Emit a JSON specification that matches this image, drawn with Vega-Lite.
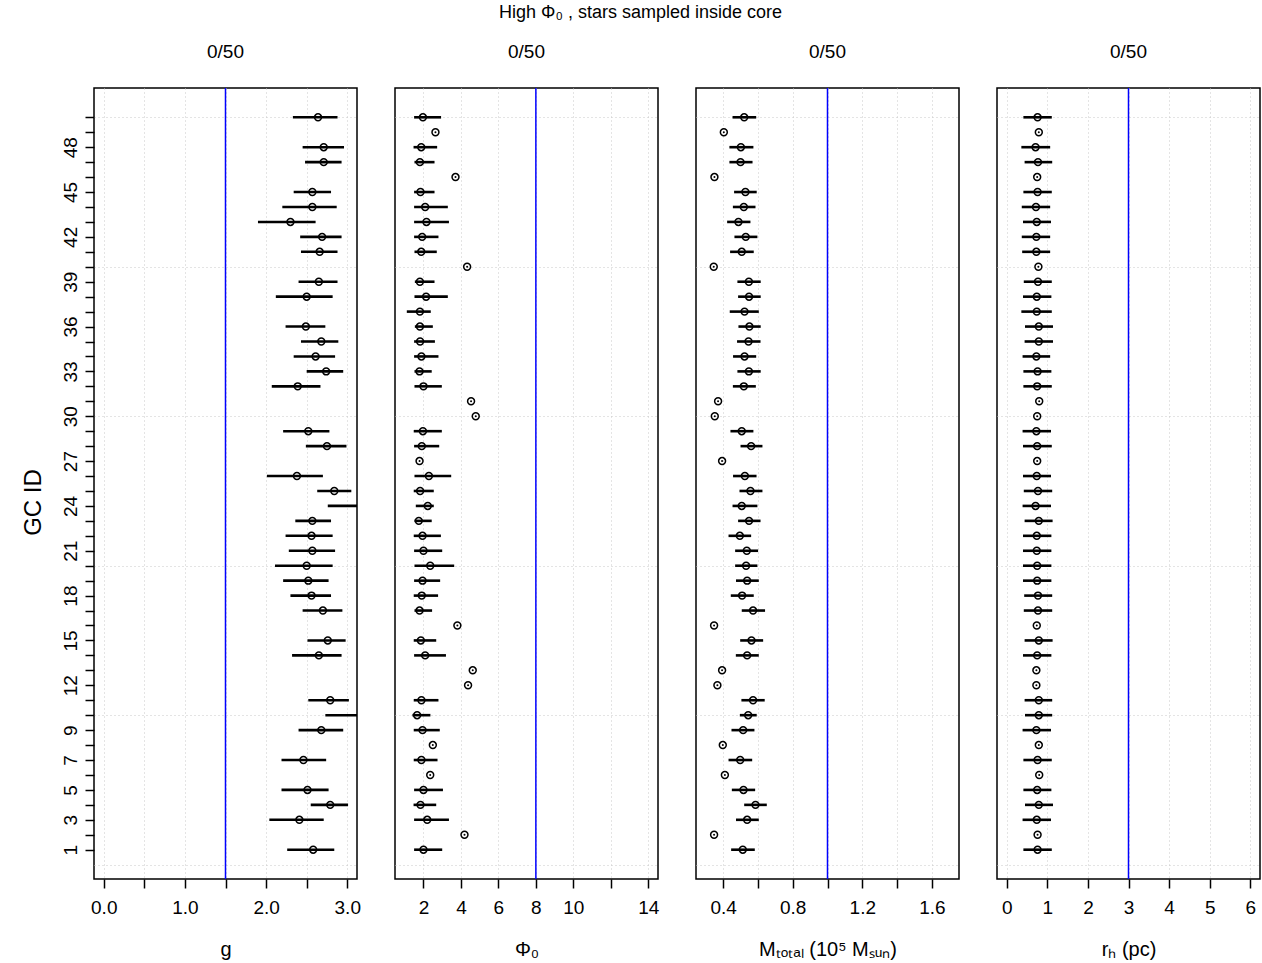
{
  "$schema": "https://vega.github.io/schema/vega-lite/v6.json",
  "background": "white",
  "padding": {"left": 20, "top": 3, "right": 2, "bottom": 2},
  "bounds": "flush",
  "title": {"text": "High  Φ₀ , stars sampled inside core", "fontSize": 18, "font": "Liberation Sans", "fontWeight": "normal", "anchor": "middle", "offset": 21, "color": "black"},
  "spacing": 38,
  "datasets": {
    "gc": [
      {"id": 50, "p": "g", "v": 2.64, "lo": 2.33, "hi": 2.88},
      {"id": 48, "p": "g", "v": 2.71, "lo": 2.45, "hi": 2.96},
      {"id": 47, "p": "g", "v": 2.71, "lo": 2.48, "hi": 2.93},
      {"id": 45, "p": "g", "v": 2.57, "lo": 2.34, "hi": 2.80},
      {"id": 44, "p": "g", "v": 2.57, "lo": 2.20, "hi": 2.87},
      {"id": 43, "p": "g", "v": 2.30, "lo": 1.90, "hi": 2.61},
      {"id": 42, "p": "g", "v": 2.69, "lo": 2.42, "hi": 2.93},
      {"id": 41, "p": "g", "v": 2.66, "lo": 2.43, "hi": 2.88},
      {"id": 39, "p": "g", "v": 2.65, "lo": 2.40, "hi": 2.88},
      {"id": 38, "p": "g", "v": 2.50, "lo": 2.12, "hi": 2.82},
      {"id": 36, "p": "g", "v": 2.49, "lo": 2.24, "hi": 2.73},
      {"id": 35, "p": "g", "v": 2.68, "lo": 2.43, "hi": 2.89},
      {"id": 34, "p": "g", "v": 2.61, "lo": 2.34, "hi": 2.85},
      {"id": 33, "p": "g", "v": 2.74, "lo": 2.50, "hi": 2.95},
      {"id": 32, "p": "g", "v": 2.39, "lo": 2.07, "hi": 2.67},
      {"id": 29, "p": "g", "v": 2.52, "lo": 2.21, "hi": 2.78},
      {"id": 28, "p": "g", "v": 2.75, "lo": 2.49, "hi": 2.99},
      {"id": 26, "p": "g", "v": 2.38, "lo": 2.01, "hi": 2.70},
      {"id": 25, "p": "g", "v": 2.84, "lo": 2.63, "hi": 3.05},
      {"id": 24, "p": "g", "v": 3.25, "lo": 2.76, "hi": 3.50},
      {"id": 23, "p": "g", "v": 2.57, "lo": 2.36, "hi": 2.80},
      {"id": 22, "p": "g", "v": 2.56, "lo": 2.24, "hi": 2.82},
      {"id": 21, "p": "g", "v": 2.57, "lo": 2.28, "hi": 2.85},
      {"id": 20, "p": "g", "v": 2.50, "lo": 2.11, "hi": 2.82},
      {"id": 19, "p": "g", "v": 2.52, "lo": 2.21, "hi": 2.77},
      {"id": 18, "p": "g", "v": 2.56, "lo": 2.30, "hi": 2.80},
      {"id": 17, "p": "g", "v": 2.70, "lo": 2.45, "hi": 2.94},
      {"id": 15, "p": "g", "v": 2.76, "lo": 2.51, "hi": 2.98},
      {"id": 14, "p": "g", "v": 2.65, "lo": 2.32, "hi": 2.93},
      {"id": 11, "p": "g", "v": 2.79, "lo": 2.52, "hi": 3.02},
      {"id": 10, "p": "g", "v": 3.25, "lo": 2.73, "hi": 3.50},
      {"id": 9, "p": "g", "v": 2.68, "lo": 2.40, "hi": 2.95},
      {"id": 7, "p": "g", "v": 2.46, "lo": 2.19, "hi": 2.74},
      {"id": 5, "p": "g", "v": 2.51, "lo": 2.19, "hi": 2.77},
      {"id": 4, "p": "g", "v": 2.79, "lo": 2.55, "hi": 3.01},
      {"id": 3, "p": "g", "v": 2.41, "lo": 2.04, "hi": 2.71},
      {"id": 1, "p": "g", "v": 2.58, "lo": 2.26, "hi": 2.84},

      {"id": 50, "p": "phi", "v": 1.97, "lo": 1.50, "hi": 2.94},
      {"id": 49, "p": "phi", "v": 2.64, "lo": null, "hi": null},
      {"id": 48, "p": "phi", "v": 1.88, "lo": 1.47, "hi": 2.73},
      {"id": 47, "p": "phi", "v": 1.81, "lo": 1.52, "hi": 2.59},
      {"id": 46, "p": "phi", "v": 3.71, "lo": null, "hi": null},
      {"id": 45, "p": "phi", "v": 1.84, "lo": 1.50, "hi": 2.59},
      {"id": 44, "p": "phi", "v": 2.09, "lo": 1.50, "hi": 3.30},
      {"id": 43, "p": "phi", "v": 2.16, "lo": 1.50, "hi": 3.36},
      {"id": 42, "p": "phi", "v": 1.93, "lo": 1.50, "hi": 2.80},
      {"id": 41, "p": "phi", "v": 1.88, "lo": 1.52, "hi": 2.71},
      {"id": 40, "p": "phi", "v": 4.33, "lo": null, "hi": null},
      {"id": 39, "p": "phi", "v": 1.81, "lo": 1.54, "hi": 2.59},
      {"id": 38, "p": "phi", "v": 2.14, "lo": 1.52, "hi": 3.30},
      {"id": 37, "p": "phi", "v": 1.81, "lo": 1.11, "hi": 2.39},
      {"id": 36, "p": "phi", "v": 1.81, "lo": 1.54, "hi": 2.50},
      {"id": 35, "p": "phi", "v": 1.82, "lo": 1.50, "hi": 2.61},
      {"id": 34, "p": "phi", "v": 1.89, "lo": 1.50, "hi": 2.80},
      {"id": 33, "p": "phi", "v": 1.79, "lo": 1.52, "hi": 2.44},
      {"id": 32, "p": "phi", "v": 2.00, "lo": 1.52, "hi": 2.98},
      {"id": 31, "p": "phi", "v": 4.54, "lo": null, "hi": null},
      {"id": 30, "p": "phi", "v": 4.79, "lo": null, "hi": null},
      {"id": 29, "p": "phi", "v": 1.97, "lo": 1.48, "hi": 2.98},
      {"id": 28, "p": "phi", "v": 1.91, "lo": 1.50, "hi": 2.84},
      {"id": 27, "p": "phi", "v": 1.79, "lo": null, "hi": null},
      {"id": 26, "p": "phi", "v": 2.29, "lo": 1.52, "hi": 3.48},
      {"id": 25, "p": "phi", "v": 1.82, "lo": 1.48, "hi": 2.55},
      {"id": 24, "p": "phi", "v": 2.23, "lo": 1.59, "hi": 2.55},
      {"id": 23, "p": "phi", "v": 1.75, "lo": 1.52, "hi": 2.44},
      {"id": 22, "p": "phi", "v": 1.95, "lo": 1.48, "hi": 2.93},
      {"id": 21, "p": "phi", "v": 2.00, "lo": 1.50, "hi": 3.00},
      {"id": 20, "p": "phi", "v": 2.36, "lo": 1.52, "hi": 3.64},
      {"id": 19, "p": "phi", "v": 1.95, "lo": 1.50, "hi": 2.89},
      {"id": 18, "p": "phi", "v": 1.91, "lo": 1.48, "hi": 2.78},
      {"id": 17, "p": "phi", "v": 1.79, "lo": 1.52, "hi": 2.46},
      {"id": 16, "p": "phi", "v": 3.81, "lo": null, "hi": null},
      {"id": 15, "p": "phi", "v": 1.86, "lo": 1.48, "hi": 2.68},
      {"id": 14, "p": "phi", "v": 2.09, "lo": 1.50, "hi": 3.20},
      {"id": 13, "p": "phi", "v": 4.63, "lo": null, "hi": null},
      {"id": 12, "p": "phi", "v": 4.38, "lo": null, "hi": null},
      {"id": 11, "p": "phi", "v": 1.89, "lo": 1.48, "hi": 2.80},
      {"id": 10, "p": "phi", "v": 1.66, "lo": 1.41, "hi": 2.37},
      {"id": 9, "p": "phi", "v": 1.95, "lo": 1.48, "hi": 2.87},
      {"id": 8, "p": "phi", "v": 2.50, "lo": null, "hi": null},
      {"id": 7, "p": "phi", "v": 1.89, "lo": 1.48, "hi": 2.75},
      {"id": 6, "p": "phi", "v": 2.36, "lo": null, "hi": null},
      {"id": 5, "p": "phi", "v": 2.00, "lo": 1.50, "hi": 3.04},
      {"id": 4, "p": "phi", "v": 1.84, "lo": 1.47, "hi": 2.68},
      {"id": 3, "p": "phi", "v": 2.20, "lo": 1.50, "hi": 3.36},
      {"id": 2, "p": "phi", "v": 4.19, "lo": null, "hi": null},
      {"id": 1, "p": "phi", "v": 2.00, "lo": 1.50, "hi": 3.00},

      {"id": 50, "p": "m", "v": 0.521, "lo": 0.454, "hi": 0.590},
      {"id": 49, "p": "m", "v": 0.404, "lo": null, "hi": null},
      {"id": 48, "p": "m", "v": 0.502, "lo": 0.436, "hi": 0.574},
      {"id": 47, "p": "m", "v": 0.500, "lo": 0.436, "hi": 0.569},
      {"id": 46, "p": "m", "v": 0.350, "lo": null, "hi": null},
      {"id": 45, "p": "m", "v": 0.528, "lo": 0.463, "hi": 0.593},
      {"id": 44, "p": "m", "v": 0.519, "lo": 0.456, "hi": 0.586},
      {"id": 43, "p": "m", "v": 0.488, "lo": 0.423, "hi": 0.557},
      {"id": 42, "p": "m", "v": 0.530, "lo": 0.465, "hi": 0.597},
      {"id": 41, "p": "m", "v": 0.507, "lo": 0.440, "hi": 0.576},
      {"id": 40, "p": "m", "v": 0.346, "lo": null, "hi": null},
      {"id": 39, "p": "m", "v": 0.548, "lo": 0.482, "hi": 0.616},
      {"id": 38, "p": "m", "v": 0.549, "lo": 0.486, "hi": 0.616},
      {"id": 37, "p": "m", "v": 0.523, "lo": 0.438, "hi": 0.605},
      {"id": 36, "p": "m", "v": 0.551, "lo": 0.488, "hi": 0.616},
      {"id": 35, "p": "m", "v": 0.546, "lo": 0.480, "hi": 0.615},
      {"id": 34, "p": "m", "v": 0.523, "lo": 0.457, "hi": 0.590},
      {"id": 33, "p": "m", "v": 0.548, "lo": 0.482, "hi": 0.616},
      {"id": 32, "p": "m", "v": 0.519, "lo": 0.456, "hi": 0.588},
      {"id": 31, "p": "m", "v": 0.371, "lo": null, "hi": null},
      {"id": 30, "p": "m", "v": 0.352, "lo": null, "hi": null},
      {"id": 29, "p": "m", "v": 0.507, "lo": 0.442, "hi": 0.574},
      {"id": 28, "p": "m", "v": 0.561, "lo": 0.500, "hi": 0.626},
      {"id": 27, "p": "m", "v": 0.394, "lo": null, "hi": null},
      {"id": 26, "p": "m", "v": 0.525, "lo": 0.457, "hi": 0.592},
      {"id": 25, "p": "m", "v": 0.557, "lo": 0.494, "hi": 0.626},
      {"id": 24, "p": "m", "v": 0.507, "lo": 0.454, "hi": 0.597},
      {"id": 23, "p": "m", "v": 0.549, "lo": 0.486, "hi": 0.615},
      {"id": 22, "p": "m", "v": 0.496, "lo": 0.431, "hi": 0.561},
      {"id": 21, "p": "m", "v": 0.536, "lo": 0.469, "hi": 0.601},
      {"id": 20, "p": "m", "v": 0.532, "lo": 0.469, "hi": 0.597},
      {"id": 19, "p": "m", "v": 0.538, "lo": 0.474, "hi": 0.605},
      {"id": 18, "p": "m", "v": 0.509, "lo": 0.444, "hi": 0.576},
      {"id": 17, "p": "m", "v": 0.572, "lo": 0.507, "hi": 0.641},
      {"id": 16, "p": "m", "v": 0.348, "lo": null, "hi": null},
      {"id": 15, "p": "m", "v": 0.563, "lo": 0.498, "hi": 0.630},
      {"id": 14, "p": "m", "v": 0.538, "lo": 0.473, "hi": 0.605},
      {"id": 13, "p": "m", "v": 0.394, "lo": null, "hi": null},
      {"id": 12, "p": "m", "v": 0.367, "lo": null, "hi": null},
      {"id": 11, "p": "m", "v": 0.572, "lo": 0.505, "hi": 0.639},
      {"id": 10, "p": "m", "v": 0.544, "lo": 0.496, "hi": 0.593},
      {"id": 9, "p": "m", "v": 0.515, "lo": 0.448, "hi": 0.580},
      {"id": 8, "p": "m", "v": 0.398, "lo": null, "hi": null},
      {"id": 7, "p": "m", "v": 0.498, "lo": 0.431, "hi": 0.567},
      {"id": 6, "p": "m", "v": 0.410, "lo": null, "hi": null},
      {"id": 5, "p": "m", "v": 0.517, "lo": 0.450, "hi": 0.584},
      {"id": 4, "p": "m", "v": 0.586, "lo": 0.521, "hi": 0.651},
      {"id": 3, "p": "m", "v": 0.538, "lo": 0.474, "hi": 0.605},
      {"id": 2, "p": "m", "v": 0.348, "lo": null, "hi": null},
      {"id": 1, "p": "m", "v": 0.513, "lo": 0.446, "hi": 0.582},

      {"id": 50, "p": "rh", "v": 0.76, "lo": 0.41, "hi": 1.11},
      {"id": 49, "p": "rh", "v": 0.79, "lo": null, "hi": null},
      {"id": 48, "p": "rh", "v": 0.71, "lo": 0.36, "hi": 1.07},
      {"id": 47, "p": "rh", "v": 0.77, "lo": 0.44, "hi": 1.12},
      {"id": 46, "p": "rh", "v": 0.75, "lo": null, "hi": null},
      {"id": 45, "p": "rh", "v": 0.76, "lo": 0.41, "hi": 1.11},
      {"id": 44, "p": "rh", "v": 0.72, "lo": 0.37, "hi": 1.07},
      {"id": 43, "p": "rh", "v": 0.74, "lo": 0.40, "hi": 1.09},
      {"id": 42, "p": "rh", "v": 0.73, "lo": 0.37, "hi": 1.07},
      {"id": 41, "p": "rh", "v": 0.73, "lo": 0.38, "hi": 1.07},
      {"id": 40, "p": "rh", "v": 0.78, "lo": null, "hi": null},
      {"id": 39, "p": "rh", "v": 0.77, "lo": 0.42, "hi": 1.11},
      {"id": 38, "p": "rh", "v": 0.74, "lo": 0.40, "hi": 1.10},
      {"id": 37, "p": "rh", "v": 0.74, "lo": 0.36, "hi": 1.11},
      {"id": 36, "p": "rh", "v": 0.79, "lo": 0.45, "hi": 1.14},
      {"id": 35, "p": "rh", "v": 0.79, "lo": 0.44, "hi": 1.14},
      {"id": 34, "p": "rh", "v": 0.73, "lo": 0.39, "hi": 1.07},
      {"id": 33, "p": "rh", "v": 0.76, "lo": 0.41, "hi": 1.10},
      {"id": 32, "p": "rh", "v": 0.75, "lo": 0.41, "hi": 1.11},
      {"id": 31, "p": "rh", "v": 0.80, "lo": null, "hi": null},
      {"id": 30, "p": "rh", "v": 0.75, "lo": null, "hi": null},
      {"id": 29, "p": "rh", "v": 0.73, "lo": 0.39, "hi": 1.09},
      {"id": 28, "p": "rh", "v": 0.75, "lo": 0.40, "hi": 1.11},
      {"id": 27, "p": "rh", "v": 0.75, "lo": null, "hi": null},
      {"id": 26, "p": "rh", "v": 0.74, "lo": 0.40, "hi": 1.09},
      {"id": 25, "p": "rh", "v": 0.77, "lo": 0.42, "hi": 1.12},
      {"id": 24, "p": "rh", "v": 0.71, "lo": 0.39, "hi": 1.09},
      {"id": 23, "p": "rh", "v": 0.79, "lo": 0.44, "hi": 1.13},
      {"id": 22, "p": "rh", "v": 0.74, "lo": 0.40, "hi": 1.10},
      {"id": 21, "p": "rh", "v": 0.74, "lo": 0.40, "hi": 1.10},
      {"id": 20, "p": "rh", "v": 0.75, "lo": 0.40, "hi": 1.10},
      {"id": 19, "p": "rh", "v": 0.75, "lo": 0.40, "hi": 1.10},
      {"id": 18, "p": "rh", "v": 0.77, "lo": 0.43, "hi": 1.12},
      {"id": 17, "p": "rh", "v": 0.77, "lo": 0.42, "hi": 1.12},
      {"id": 16, "p": "rh", "v": 0.74, "lo": null, "hi": null},
      {"id": 15, "p": "rh", "v": 0.79, "lo": 0.44, "hi": 1.13},
      {"id": 14, "p": "rh", "v": 0.75, "lo": 0.40, "hi": 1.10},
      {"id": 13, "p": "rh", "v": 0.73, "lo": null, "hi": null},
      {"id": 12, "p": "rh", "v": 0.73, "lo": null, "hi": null},
      {"id": 11, "p": "rh", "v": 0.79, "lo": 0.44, "hi": 1.12},
      {"id": 10, "p": "rh", "v": 0.79, "lo": 0.45, "hi": 1.12},
      {"id": 9, "p": "rh", "v": 0.73, "lo": 0.39, "hi": 1.09},
      {"id": 8, "p": "rh", "v": 0.79, "lo": null, "hi": null},
      {"id": 7, "p": "rh", "v": 0.76, "lo": 0.41, "hi": 1.11},
      {"id": 6, "p": "rh", "v": 0.80, "lo": null, "hi": null},
      {"id": 5, "p": "rh", "v": 0.75, "lo": 0.41, "hi": 1.10},
      {"id": 4, "p": "rh", "v": 0.79, "lo": 0.45, "hi": 1.14},
      {"id": 3, "p": "rh", "v": 0.74, "lo": 0.39, "hi": 1.09},
      {"id": 2, "p": "rh", "v": 0.76, "lo": null, "hi": null},
      {"id": 1, "p": "rh", "v": 0.76, "lo": 0.41, "hi": 1.11}
    ]
  },
  "hconcat": [
    {
      "width": 263, "height": 791,
      "title": {"text": "0/50", "fontSize": 19, "fontWeight": "normal", "offset": 25, "color": "black"},
      "data": {"name": "gc"},
      "transform": [{"filter": "datum.p === 'g'"}],
      "layer": [
        {
          "data": {"values": [{"ref": 1.5}]},
          "transform": [],
          "mark": {"type": "rule", "color": "blue", "strokeWidth": 1.5},
          "encoding": {
            "x": {"field": "ref", "type": "quantitative", "scale": {"domain": [-0.12, 3.12], "nice": false, "zero": false},
              "axis": {"values": [0, 0.5, 1, 1.5, 2, 2.5, 3], "labelExpr": "datum.value % 1 === 0 ? format(datum.value, '.1f') : ''", "title": "g"}}
          }
        },
        {
          "mark": {"type": "rule", "strokeWidth": 2.6, "color": "black", "clip": true},
          "encoding": {
            "x": {"field": "lo", "type": "quantitative", "scale": {"domain": [-0.12, 3.12], "nice": false, "zero": false},
              "axis": {"values": [0, 0.5, 1, 1.5, 2, 2.5, 3], "labelExpr": "datum.value % 1 === 0 ? format(datum.value, '.1f') : ''", "title": "g"}},
            "x2": {"field": "hi"},
            "y": {"field": "id", "type": "quantitative", "scale": {"domain": [-0.96, 51.96], "nice": false, "zero": false},
              "axis": {"values": [0,1,2,3,4,5,6,7,8,9,10,11,12,13,14,15,16,17,18,19,20,21,22,23,24,25,26,27,28,29,30,31,32,33,34,35,36,37,38,39,40,41,42,43,44,45,46,47,48,49,50],
                "title": "GC ID", "titleFontSize": 24, "titlePadding": 16, "titleY": 414,
                "labelExpr": "indexof([1,3,5,7,9,12,15,18,21,24,27,30,33,36,39,42,45,48], datum.value) >= 0 ? datum.label : ''",
                "labelAngle": -90, "labelAlign": "center", "labelBaseline": "bottom", "labelFontSize": 19, "labelPadding": 5,
                "ticks": true, "tickSize": 9, "tickWidth": 1.5, "tickColor": "black",
                "tickOpacity": {"condition": {"test": "datum.value > 0", "value": 1}, "value": 0},
                "gridOpacity": {"condition": {"test": "datum.value % 10 === 0", "value": 1}, "value": 0}}}
          }
        },
        {
          "mark": {"type": "point", "shape": "circle", "filled": false, "stroke": "black", "strokeWidth": 1.5, "size": 48, "opacity": 1, "clip": true},
          "encoding": {
            "x": {"field": "v", "type": "quantitative", "scale": {"domain": [-0.12, 3.12], "nice": false, "zero": false},
              "axis": {"values": [0, 0.5, 1, 1.5, 2, 2.5, 3], "labelExpr": "datum.value % 1 === 0 ? format(datum.value, '.1f') : ''", "title": "g"}},
            "y": {"field": "id", "type": "quantitative", "scale": {"domain": [-0.96, 51.96], "nice": false, "zero": false},
              "axis": {"values": [0,1,2,3,4,5,6,7,8,9,10,11,12,13,14,15,16,17,18,19,20,21,22,23,24,25,26,27,28,29,30,31,32,33,34,35,36,37,38,39,40,41,42,43,44,45,46,47,48,49,50],
                "title": "GC ID", "titleFontSize": 24, "titlePadding": 16, "titleY": 414,
                "labelExpr": "indexof([1,3,5,7,9,12,15,18,21,24,27,30,33,36,39,42,45,48], datum.value) >= 0 ? datum.label : ''",
                "labelAngle": -90, "labelAlign": "center", "labelBaseline": "bottom", "labelFontSize": 19, "labelPadding": 5,
                "ticks": true, "tickSize": 9, "tickWidth": 1.5, "tickColor": "black",
                "tickOpacity": {"condition": {"test": "datum.value > 0", "value": 1}, "value": 0},
                "gridOpacity": {"condition": {"test": "datum.value % 10 === 0", "value": 1}, "value": 0}}}
          }
        }
      ]
    },
    {
      "width": 263, "height": 791,
      "title": {"text": "0/50", "fontSize": 19, "fontWeight": "normal", "offset": 25, "color": "black"},
      "data": {"name": "gc"},
      "transform": [{"filter": "datum.p === 'phi'"}],
      "layer": [
        {
          "data": {"values": [{"ref": 8}]},
          "mark": {"type": "rule", "color": "blue", "strokeWidth": 1.5},
          "encoding": {
            "x": {"field": "ref", "type": "quantitative", "scale": {"domain": [0.48, 14.52], "nice": false, "zero": false},
              "axis": {"values": [2, 4, 6, 8, 10, 12, 14], "labelExpr": "datum.value === 12 ? '' : datum.label", "title": "Φ₀"}}
          }
        },
        {
          "mark": {"type": "rule", "strokeWidth": 2.6, "color": "black", "clip": true},
          "encoding": {
            "x": {"field": "lo", "type": "quantitative", "scale": {"domain": [0.48, 14.52], "nice": false, "zero": false},
              "axis": {"values": [2, 4, 6, 8, 10, 12, 14], "labelExpr": "datum.value === 12 ? '' : datum.label", "title": "Φ₀"}},
            "x2": {"field": "hi"},
            "y": {"field": "id", "type": "quantitative", "scale": {"domain": [-0.96, 51.96], "nice": false, "zero": false},
              "axis": {"values": [0, 10, 20, 30, 40, 50], "title": null, "labels": false, "ticks": false}}
          }
        },
        {
          "mark": {"type": "point", "shape": "circle", "filled": false, "stroke": "black", "strokeWidth": 1.5, "size": 48, "opacity": 1, "clip": true},
          "encoding": {
            "x": {"field": "v", "type": "quantitative", "scale": {"domain": [0.48, 14.52], "nice": false, "zero": false},
              "axis": {"values": [2, 4, 6, 8, 10, 12, 14], "labelExpr": "datum.value === 12 ? '' : datum.label", "title": "Φ₀"}},
            "y": {"field": "id", "type": "quantitative", "scale": {"domain": [-0.96, 51.96], "nice": false, "zero": false},
              "axis": {"values": [0, 10, 20, 30, 40, 50], "title": null, "labels": false, "ticks": false}}
          }
        },
        {
          "transform": [{"filter": "datum.lo == null"}],
          "mark": {"type": "point", "shape": "circle", "filled": true, "color": "black", "size": 4, "opacity": 1},
          "encoding": {
            "x": {"field": "v", "type": "quantitative", "scale": {"domain": [0.48, 14.52], "nice": false, "zero": false},
              "axis": {"values": [2, 4, 6, 8, 10, 12, 14], "labelExpr": "datum.value === 12 ? '' : datum.label", "title": "Φ₀"}},
            "y": {"field": "id", "type": "quantitative", "scale": {"domain": [-0.96, 51.96], "nice": false, "zero": false},
              "axis": {"values": [0, 10, 20, 30, 40, 50], "title": null, "labels": false, "ticks": false}}
          }
        }
      ]
    },
    {
      "width": 263, "height": 791,
      "title": {"text": "0/50", "fontSize": 19, "fontWeight": "normal", "offset": 25, "color": "black"},
      "data": {"name": "gc"},
      "transform": [{"filter": "datum.p === 'm'"}],
      "layer": [
        {
          "data": {"values": [{"ref": 1.0}]},
          "mark": {"type": "rule", "color": "blue", "strokeWidth": 1.5},
          "encoding": {
            "x": {"field": "ref", "type": "quantitative", "scale": {"domain": [0.244, 1.756], "nice": false, "zero": false},
              "axis": {"values": [0.4, 0.6, 0.8, 1.0, 1.2, 1.4, 1.6], "labelExpr": "(abs(datum.value - 0.4) < 0.01 || abs(datum.value - 0.8) < 0.01 || abs(datum.value - 1.2) < 0.01 || abs(datum.value - 1.6) < 0.01) ? format(datum.value, '.1f') : ''", "title": "Mₜₒₜₐₗ (10⁵ Mₛᵤₙ)"}}
          }
        },
        {
          "mark": {"type": "rule", "strokeWidth": 2.6, "color": "black", "clip": true},
          "encoding": {
            "x": {"field": "lo", "type": "quantitative", "scale": {"domain": [0.244, 1.756], "nice": false, "zero": false},
              "axis": {"values": [0.4, 0.6, 0.8, 1.0, 1.2, 1.4, 1.6], "labelExpr": "(abs(datum.value - 0.4) < 0.01 || abs(datum.value - 0.8) < 0.01 || abs(datum.value - 1.2) < 0.01 || abs(datum.value - 1.6) < 0.01) ? format(datum.value, '.1f') : ''", "title": "Mₜₒₜₐₗ (10⁵ Mₛᵤₙ)"}},
            "x2": {"field": "hi"},
            "y": {"field": "id", "type": "quantitative", "scale": {"domain": [-0.96, 51.96], "nice": false, "zero": false},
              "axis": {"values": [0, 10, 20, 30, 40, 50], "title": null, "labels": false, "ticks": false}}
          }
        },
        {
          "mark": {"type": "point", "shape": "circle", "filled": false, "stroke": "black", "strokeWidth": 1.5, "size": 48, "opacity": 1, "clip": true},
          "encoding": {
            "x": {"field": "v", "type": "quantitative", "scale": {"domain": [0.244, 1.756], "nice": false, "zero": false},
              "axis": {"values": [0.4, 0.6, 0.8, 1.0, 1.2, 1.4, 1.6], "labelExpr": "(abs(datum.value - 0.4) < 0.01 || abs(datum.value - 0.8) < 0.01 || abs(datum.value - 1.2) < 0.01 || abs(datum.value - 1.6) < 0.01) ? format(datum.value, '.1f') : ''", "title": "Mₜₒₜₐₗ (10⁵ Mₛᵤₙ)"}},
            "y": {"field": "id", "type": "quantitative", "scale": {"domain": [-0.96, 51.96], "nice": false, "zero": false},
              "axis": {"values": [0, 10, 20, 30, 40, 50], "title": null, "labels": false, "ticks": false}}
          }
        },
        {
          "transform": [{"filter": "datum.lo == null"}],
          "mark": {"type": "point", "shape": "circle", "filled": true, "color": "black", "size": 4, "opacity": 1},
          "encoding": {
            "x": {"field": "v", "type": "quantitative", "scale": {"domain": [0.244, 1.756], "nice": false, "zero": false},
              "axis": {"values": [0.4, 0.6, 0.8, 1.0, 1.2, 1.4, 1.6], "labelExpr": "(abs(datum.value - 0.4) < 0.01 || abs(datum.value - 0.8) < 0.01 || abs(datum.value - 1.2) < 0.01 || abs(datum.value - 1.6) < 0.01) ? format(datum.value, '.1f') : ''", "title": "Mₜₒₜₐₗ (10⁵ Mₛᵤₙ)"}},
            "y": {"field": "id", "type": "quantitative", "scale": {"domain": [-0.96, 51.96], "nice": false, "zero": false},
              "axis": {"values": [0, 10, 20, 30, 40, 50], "title": null, "labels": false, "ticks": false}}
          }
        }
      ]
    },
    {
      "width": 263, "height": 791,
      "title": {"text": "0/50", "fontSize": 19, "fontWeight": "normal", "offset": 25, "color": "black"},
      "data": {"name": "gc"},
      "transform": [{"filter": "datum.p === 'rh'"}],
      "layer": [
        {
          "data": {"values": [{"ref": 3}]},
          "mark": {"type": "rule", "color": "blue", "strokeWidth": 1.5},
          "encoding": {
            "x": {"field": "ref", "type": "quantitative", "scale": {"domain": [-0.24, 6.24], "nice": false, "zero": false},
              "axis": {"values": [0, 1, 2, 3, 4, 5, 6], "title": "rₕ (pc)"}}
          }
        },
        {
          "mark": {"type": "rule", "strokeWidth": 2.6, "color": "black", "clip": true},
          "encoding": {
            "x": {"field": "lo", "type": "quantitative", "scale": {"domain": [-0.24, 6.24], "nice": false, "zero": false},
              "axis": {"values": [0, 1, 2, 3, 4, 5, 6], "title": "rₕ (pc)"}},
            "x2": {"field": "hi"},
            "y": {"field": "id", "type": "quantitative", "scale": {"domain": [-0.96, 51.96], "nice": false, "zero": false},
              "axis": {"values": [0, 10, 20, 30, 40, 50], "title": null, "labels": false, "ticks": false}}
          }
        },
        {
          "mark": {"type": "point", "shape": "circle", "filled": false, "stroke": "black", "strokeWidth": 1.5, "size": 48, "opacity": 1, "clip": true},
          "encoding": {
            "x": {"field": "v", "type": "quantitative", "scale": {"domain": [-0.24, 6.24], "nice": false, "zero": false},
              "axis": {"values": [0, 1, 2, 3, 4, 5, 6], "title": "rₕ (pc)"}},
            "y": {"field": "id", "type": "quantitative", "scale": {"domain": [-0.96, 51.96], "nice": false, "zero": false},
              "axis": {"values": [0, 10, 20, 30, 40, 50], "title": null, "labels": false, "ticks": false}}
          }
        },
        {
          "transform": [{"filter": "datum.lo == null"}],
          "mark": {"type": "point", "shape": "circle", "filled": true, "color": "black", "size": 4, "opacity": 1},
          "encoding": {
            "x": {"field": "v", "type": "quantitative", "scale": {"domain": [-0.24, 6.24], "nice": false, "zero": false},
              "axis": {"values": [0, 1, 2, 3, 4, 5, 6], "title": "rₕ (pc)"}},
            "y": {"field": "id", "type": "quantitative", "scale": {"domain": [-0.96, 51.96], "nice": false, "zero": false},
              "axis": {"values": [0, 10, 20, 30, 40, 50], "title": null, "labels": false, "ticks": false}}
          }
        }
      ]
    }
  ],
  "config": {
    "font": "Liberation Sans",
    "view": {"stroke": "black", "strokeWidth": 1.5},
    "title": {"font": "Liberation Sans", "color": "black"},
    "axis": {
      "domain": false,
      "grid": true, "gridDash": [1, 3], "gridColor": "#c8c8c8", "gridWidth": 1,
      "labelColor": "black", "labelFont": "Liberation Sans", "labelOverlap": false, "labelFlush": false,
      "titleColor": "black", "titleFont": "Liberation Sans", "titleFontWeight": "normal"
    },
    "axisX": {
      "tickSize": 9, "tickWidth": 1.5, "tickColor": "black",
      "labelFontSize": 19, "labelPadding": 10, "titleFontSize": 20, "titlePadding": 22
    }
  }
}
